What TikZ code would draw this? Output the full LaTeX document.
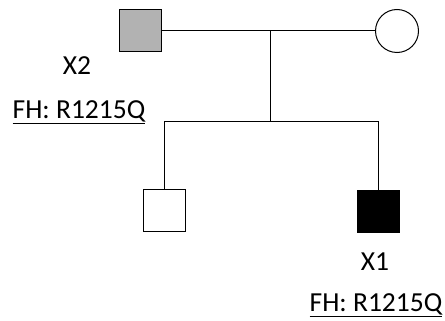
\documentclass[tikz,border=0pt]{standalone}
\usepackage{fontspec}
\setmainfont{Carlito}
\tikzset{
  male/.style={draw, line width=1pt, minimum size=42, inner sep=0pt},
  female/.style={draw, circle, line width=1pt, minimum size=43, inner sep=0pt},
  lbl/.style={font=\fontsize{27.5}{30}\selectfont, inner sep=0pt}
}
\begin{document}
\begin{tikzpicture}[x=1pt,y=-1pt]
        \useasboundingbox (0, 0) rectangle (445, 321);
        \node[male, fill=gray!60] (father) at (140, 31) {};
        \node[female] (mother) at (397, 31) {};
        \coordinate (mate) at (270, 31);
        \coordinate (sib) at (270, 122);
        \coordinate (sibl) at (164, 122);
        \coordinate (sibr) at (378, 122);
        \node[male] (son) at (164, 210) {};
        \node[male, fill=black] (proband) at (378, 211) {};
        \draw[line width=1pt] (father) -- (mother);
        \draw[line width=1pt] (mate) -- (sib);
        \draw[line width=1pt] (son) -- (sibl) -- (sibr) -- (proband);
        \node[lbl] (fatherid) at (77, 66) {X2};
        \node[lbl] (fathermut) at (79, 112) {\underline{FH: R1215Q}};
        \node[lbl] (probandid) at (375, 262) {X1};
        \node[lbl] (probandmut) at (376, 305) {\underline{FH: R1215Q}};
    \end{tikzpicture}
\end{document}
